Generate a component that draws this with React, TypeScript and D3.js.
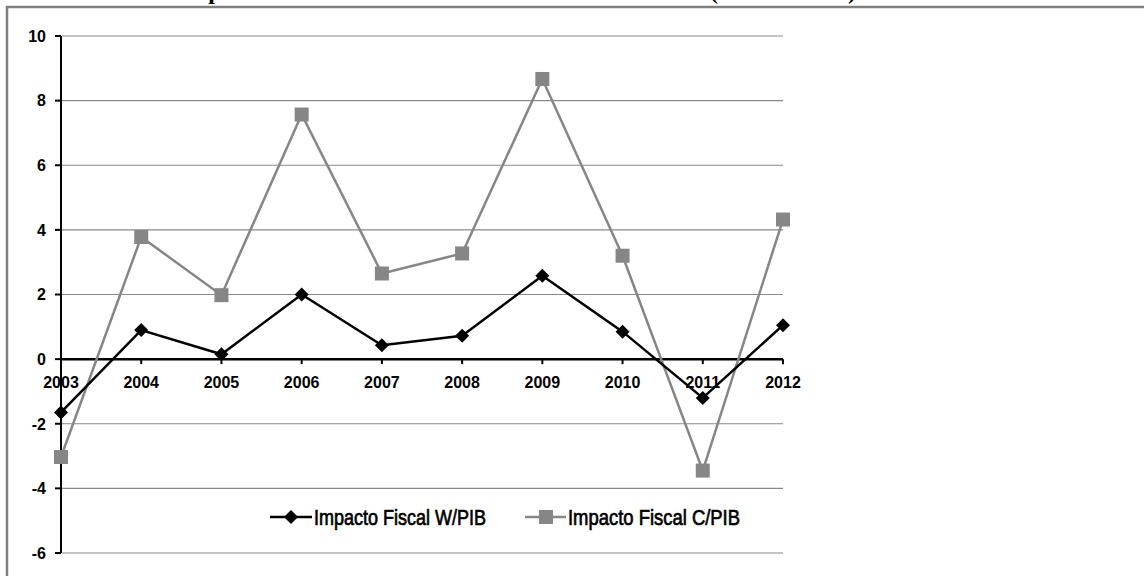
import React from "react";
import * as d3 from "d3";

const years = ["2003", "2004", "2005", "2006", "2007", "2008", "2009", "2010", "2011", "2012"];
const impactoW = [-1.65, 0.9, 0.15, 2.0, 0.43, 0.72, 2.58, 0.85, -1.2, 1.05];
const impactoC = [-3.03, 3.78, 1.98, 7.57, 2.65, 3.27, 8.67, 3.2, -3.45, 4.32];
const yTicks = [-6, -4, -2, 0, 2, 4, 6, 8, 10];
const seriesNames = ["Impacto Fiscal W/PIB", "Impacto Fiscal C/PIB"];

const W = 1144;
const H = 576;

export default function App() {
  const x = d3.scalePoint<string>().domain(years).range([61, 783]);
  const y = d3.scaleLinear().domain([-6, 10]).range([553, 36]);

  const line = d3
    .line<number>()
    .x((_, i) => x(years[i]) as number)
    .y((d) => y(d));

  const labelFont = "'Liberation Sans', Arial, sans-serif";
  const legendFont = "'Liberation Sans', Arial, sans-serif";
  const gridColor = "#8a8a8a";
  const grayColor = "#868686";

  const diamond = (cx: number, cy: number, r: number) =>
    `M${cx},${cy - r}L${cx + r},${cy}L${cx},${cy + r}L${cx - r},${cy}Z`;

  return (
    <svg
      width={W}
      height={H}
      style={{ position: "absolute", left: 0, top: 0, background: "#fff" }}
    >
      {/* title, running above the frame */}
      <g fontFamily="'Liberation Serif', 'Times New Roman', serif" fontWeight="bold" fontSize={24}>
        <text x={179} y={-1} textAnchor="end">Gráfico 1: </text>
        <text x={179} y={-1}>Impacto Fiscal del Gobierno Central</text>
        <text x={710} y={-1} textLength={146}>(2003 – 2012)</text>
      </g>

      {/* outer frame */}
      <path d={`M7,${H}V7H${W}`} fill="none" stroke="#808080" strokeWidth={2.5} />

      {/* gridlines */}
      {yTicks.map((t) => (
        <line key={t} x1={61} x2={783} y1={y(t)} y2={y(t)} stroke={gridColor} strokeWidth={1.2} />
      ))}

      {/* y axis */}
      <line x1={61} x2={61} y1={y(10)} y2={y(-6)} stroke="#000" strokeWidth={2} />
      {yTicks.map((t) => (
        <g key={t}>
          <line x1={55} x2={61} y1={y(t)} y2={y(t)} stroke="#000" strokeWidth={2} />
          <text
            x={46}
            y={y(t)}
            dy="0.36em"
            textAnchor="end"
            fontFamily={labelFont}
            fontWeight="bold"
            fontSize={16}
            fill="#000"
          >
            {t}
          </text>
        </g>
      ))}

      {/* x axis at zero */}
      <line x1={61} x2={783} y1={y(0)} y2={y(0)} stroke="#000" strokeWidth={2.5} />
      {years.map((yr) => (
        <g key={yr}>
          <line x1={x(yr)} x2={x(yr)} y1={y(0)} y2={y(0) + 5} stroke="#000" strokeWidth={2} />
          <text
            x={x(yr)}
            y={y(0) + 29}
            textAnchor="middle"
            fontFamily={labelFont}
            fontWeight="bold"
            fontSize={16}
            fill="#000"
          >
            {yr}
          </text>
        </g>
      ))}

      {/* series C/PIB */}
      <path d={line(impactoC) as string} fill="none" stroke={grayColor} strokeWidth={2.5} />
      {impactoC.map((v, i) => (
        <rect
          key={i}
          x={(x(years[i]) as number) - 7}
          y={y(v) - 7}
          width={14}
          height={14}
          fill={grayColor}
        />
      ))}

      {/* series W/PIB */}
      <path d={line(impactoW) as string} fill="none" stroke="#000" strokeWidth={2.5} />
      {impactoW.map((v, i) => (
        <path key={i} d={diamond(x(years[i]) as number, y(v), 7)} fill="#000" />
      ))}

      {/* legend */}
      <g fontFamily={legendFont} fontSize={22} fill="#000">
        <line x1={270} x2={312} y1={517} y2={517} stroke="#000" strokeWidth={2.5} />
        <path d={diamond(291, 517, 7)} fill="#000" />
        <text
          x={314}
          y={517}
          dy="0.36em"
          textLength={172}
          lengthAdjust="spacingAndGlyphs"
          stroke="#000"
          strokeWidth={0.7}
        >
          {seriesNames[0]}
        </text>

        <line x1={525} x2={566} y1={517} y2={517} stroke={grayColor} strokeWidth={2.5} />
        <rect x={539} y={510} width={14} height={14} fill={grayColor} />
        <text
          x={568}
          y={517}
          dy="0.36em"
          textLength={172}
          lengthAdjust="spacingAndGlyphs"
          stroke="#000"
          strokeWidth={0.7}
        >
          {seriesNames[1]}
        </text>
      </g>
    </svg>
  );
}
